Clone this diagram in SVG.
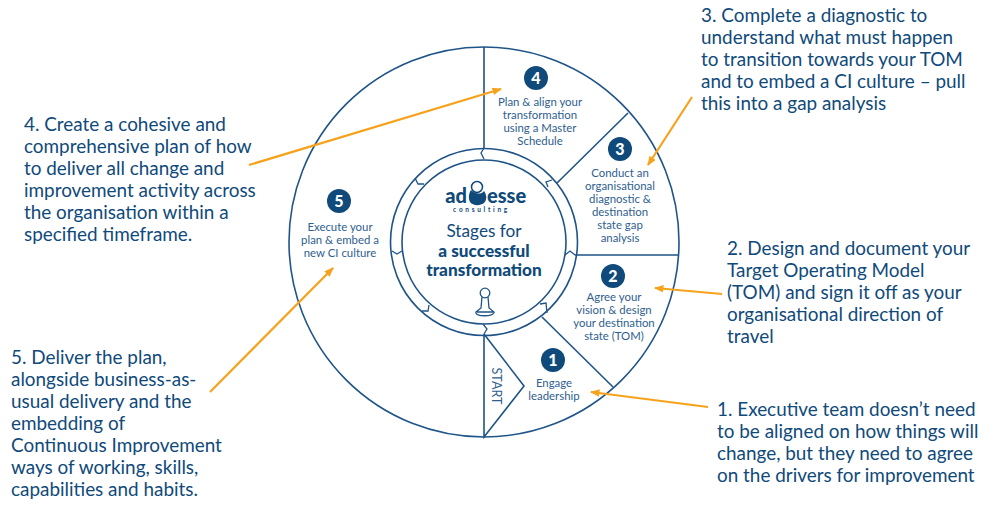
<svg xmlns="http://www.w3.org/2000/svg" width="1000" height="513" viewBox="0 0 1000 513">
<style>
text{font-family:"Lato","Open Sans",sans-serif;fill:#0f4a7b}
.a{font-size:18.9px}
.s{font-size:11.4px;text-anchor:middle;fill:#2f6090}
.n{font-size:16px;font-weight:900;fill:#fff;text-anchor:middle}
.d{fill:#0f4a7b}
.l{fill:none;stroke:#1f5488;stroke-width:1.6}
.t{fill:none;stroke:#1f5488;stroke-width:1.3}
.o{fill:none;stroke:#f7a21b;stroke-width:2.2}
.m{font-size:17.2px;text-anchor:middle}
.b{font-size:20px;font-weight:900}
</style>
<defs><marker id="ah" viewBox="0 0 10 8" refX="9" refY="4" markerWidth="9.500" markerHeight="7.500" markerUnits="userSpaceOnUse" orient="auto"><path d="M0 0L10 4L0 8Z" fill="#f7a21b"/></marker></defs>
<rect width="1000" height="513" fill="#fff"/>
<g id="wheel">
<circle class="l" cx="484" cy="242" r="195"/>
<circle class="l" cx="484" cy="242" r="93.5"/>
<circle class="l" cx="484" cy="242" r="82"/>
<path class="l" d="M484 47V148M628 113L557 183M575 255H678M613 387L542 317M484 334V437L524 386L484 334"/>
<path class="t" d="M484 148L481 153L484 159M552 180L546 182L548 187M565 255L570 251L575 255M540 304L546 303L547 313M483 324L487 329L484 334M429 305L428 311L422 311M392 251L397 254L402 251M415 178L418 184L424 184"/>
<text class="s" x="0" y="0" transform="translate(491.500,386) rotate(90)" style="font-size:13.500px" textLength="37" lengthAdjust="spacingAndGlyphs">START</text>
</g>
<g id="center">
<text class="b" x="467" y="203" style="text-anchor:end">ad</text>
<text class="b" x="487" y="203">esse</text>
<path class="d" d="M471 190C475 194 481 195 484 191C487 195 487 200 484 203C480 206 473 206 470 202C468 198 469 193 471 190Z"/>
<circle cx="477" cy="187" r="5.500" fill="#fff" stroke="#0f4a7b" stroke-width="1.500"/>
<text x="481.500" y="212" style="font-size:6.500px;font-weight:700;letter-spacing:2.700px;text-anchor:middle">consulting</text>
<text class="m" x="484" y="237">Stages for</text>
<text class="m" x="484" y="257" style="font-weight:900">a successful</text>
<text class="m" x="484" y="276" style="font-weight:900">transformation</text>
<g class="t">
<circle cx="485" cy="293" r="4.800"/>
<path d="M482 297L481 308L476 312C474 317 495 317 494 312L489 308L488 297M477 312H493"/>
</g>
</g>
<g id="node1"><circle class="d" cx="553" cy="360" r="12"/><text class="n" x="553" y="366">1</text><text class="s"><tspan x="554" y="387">Engage</tspan><tspan x="554" y="400">leadership</tspan></text></g>
<g id="node2"><circle class="d" cx="613" cy="276" r="12"/><text class="n" x="613" y="282">2</text><text class="s"><tspan x="614" y="301">Agree your</tspan><tspan x="614" y="314">vision &amp; design</tspan><tspan x="614" y="327">your destination</tspan><tspan x="614" y="340">state (TOM)</tspan></text></g>
<g id="node3"><circle class="d" cx="620" cy="149" r="12"/><text class="n" x="620" y="155">3</text><text class="s"><tspan x="620" y="177">Conduct an</tspan><tspan x="620" y="190">organisational</tspan><tspan x="620" y="203">diagnostic &amp;</tspan><tspan x="620" y="216">destination</tspan><tspan x="620" y="229">state gap</tspan><tspan x="620" y="242">analysis</tspan></text></g>
<g id="node4"><circle class="d" cx="536" cy="78" r="12"/><text class="n" x="536" y="84">4</text><text class="s"><tspan x="540" y="106">Plan &amp; align your</tspan><tspan x="540" y="119">transformation</tspan><tspan x="540" y="132">using a Master</tspan><tspan x="540" y="145">Schedule</tspan></text></g>
<g id="node5"><circle class="d" cx="339" cy="201" r="12"/><text class="n" x="339" y="207">5</text><text class="s"><tspan x="340" y="231">Execute your</tspan><tspan x="340" y="244">plan &amp; embed a</tspan><tspan x="340" y="257">new CI culture</tspan></text></g>
<g id="connectors">
<path class="o" marker-end="url(#ah)" d="M249 165L501 89"/>
<path class="o" marker-end="url(#ah)" d="M692 97L648 165"/>
<path class="o" marker-end="url(#ah)" d="M722 294L655 288"/>
<path class="o" marker-end="url(#ah)" d="M708 407L591 392"/>
<path class="o" marker-end="url(#ah)" d="M210 392L333 268"/>
</g>
<g id="notes">
<text class="a"><tspan x="701" y="22">3. Complete a diagnostic to</tspan><tspan x="701" y="44">understand what must happen</tspan><tspan x="701" y="66">to transition towards your TOM</tspan><tspan x="701" y="88">and to embed a CI culture – pull</tspan><tspan x="701" y="110">this into a gap analysis</tspan></text>
<text class="a"><tspan x="24" y="131">4. Create a cohesive and</tspan><tspan x="24" y="153">comprehensive plan of how</tspan><tspan x="24" y="175">to deliver all change and</tspan><tspan x="24" y="197">improvement activity across</tspan><tspan x="24" y="219">the organisation within a</tspan><tspan x="24" y="241">specified timeframe.</tspan></text>
<text class="a"><tspan x="727" y="255">2. Design and document your</tspan><tspan x="727" y="277">Target Operating Model</tspan><tspan x="727" y="299">(TOM) and sign it off as your</tspan><tspan x="727" y="321">organisational direction of</tspan><tspan x="727" y="343">travel</tspan></text>
<text class="a"><tspan x="717" y="416">1. Executive team doesn’t need</tspan><tspan x="717" y="438">to be aligned on how things will</tspan><tspan x="717" y="460">change, but they need to agree</tspan><tspan x="717" y="482">on the drivers for improvement</tspan></text>
<text class="a"><tspan x="11" y="364">5. Deliver the plan,</tspan><tspan x="11" y="386">alongside business-as-</tspan><tspan x="11" y="408">usual delivery and the</tspan><tspan x="11" y="430">embedding of</tspan><tspan x="11" y="452">Continuous Improvement</tspan><tspan x="11" y="474">ways of working, skills,</tspan><tspan x="11" y="496">capabilities and habits.</tspan></text>
</g>
</svg>
